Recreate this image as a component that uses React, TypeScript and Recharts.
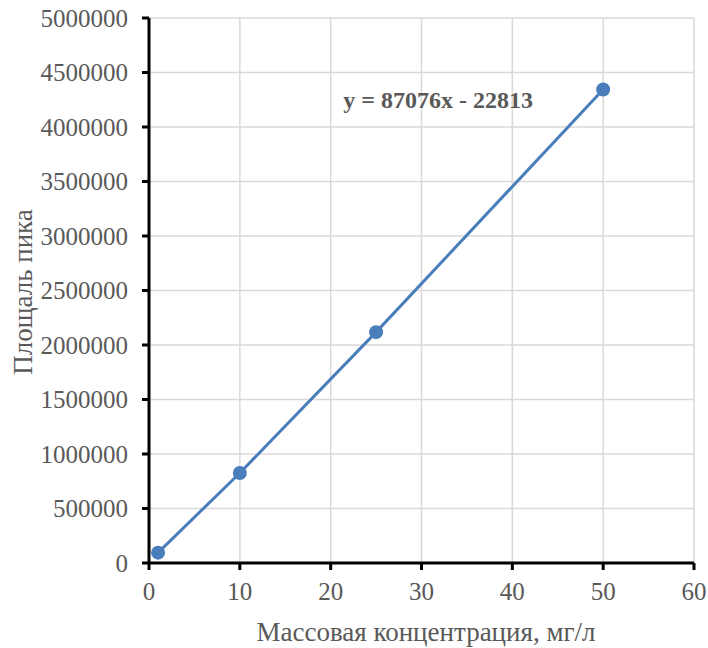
import { LineChart, Line, XAxis, YAxis, CartesianGrid, ReferenceDot } from "recharts"

const concentrations = [1, 10, 25, 50]
const peakAreas = [95000, 826000, 2118000, 4344000]
const xTicks = [0, 10, 20, 30, 40, 50, 60]
const yTicks = [0, 500000, 1000000, 1500000, 2000000, 2500000, 3000000, 3500000, 4000000, 4500000, 5000000]
const equation = "y = 87076x - 22813"
const xTitle = "Массовая концентрация, мг/л"
const yTitle = "Площаль пика"

const data = concentrations.map((x, i) => ({ x, area: peakAreas[i] }))

const font = "Liberation Serif"
const gray = "#595959"
const blue = "#4A7EBB"

function XTick({ x, y, payload }: any) {
  return (
    <text x={x} y={y + 26} textAnchor="middle" fontFamily={font} fontSize={25} fill={gray}>
      {payload.value}
    </text>
  )
}

function YTick({ x, y, payload }: any) {
  return (
    <text x={x} y={y + 8.5} textAnchor="end" fontFamily={font} fontSize={25} fill={gray}>
      {payload.value}
    </text>
  )
}

export default function App() {
  return (
    <div style={{ position: "absolute", left: 0, top: 0, width: 708, height: 648, background: "#fff" }}>
      <LineChart width={708} height={648} data={data} margin={{ top: 18, right: 14, left: 0, bottom: 0 }}>
        <CartesianGrid stroke="#d9d9d9" strokeWidth={1.5} />
        <XAxis
          type="number"
          dataKey="x"
          domain={[0, 60]}
          ticks={xTicks}
          height={85}
          tick={<XTick />}
          tickSize={7}
          tickMargin={4}
          stroke="#000"
          strokeWidth={3}
          tickLine={{ stroke: "#000", strokeWidth: 3 }}
        />
        <XAxis xAxisId="top" orientation="top" type="number" domain={[0, 60]} tick={false} tickLine={false} height={0} stroke="#000" strokeWidth={3} />
        <YAxis
          type="number"
          domain={[0, 5000000]}
          ticks={yTicks}
          width={149}
          tick={<YTick />}
          tickSize={7}
          tickMargin={14}
          stroke="#000"
          strokeWidth={3}
          tickLine={{ stroke: "#000", strokeWidth: 3 }}
        />
        <YAxis yAxisId="right" orientation="right" domain={[0, 5000000]} tick={false} tickLine={false} width={0} stroke="#000" strokeWidth={3} />
        <Line
          dataKey="area"
          type="linear"
          stroke={blue}
          strokeWidth={3}
          dot={{ r: 7, fill: blue, stroke: blue, strokeWidth: 0 }}
          isAnimationActive={false}
        />
        <ReferenceDot
          x={21.5}
          y={4250000}
          r={0}
          label={(p: any) => (
            <text x={p.viewBox.x - 1} y={p.viewBox.y + 8} fontFamily={font} fontSize={24} fontWeight="bold" fill={gray}>
              {equation}
            </text>
          )}
        />
        <text x={426} y={641} textAnchor="middle" fontFamily={font} fontSize={27} fill={gray}>
          {xTitle}
        </text>
        <text x={32} y={292} transform="rotate(-90 32 292)" textAnchor="middle" fontFamily={font} fontSize={27} fill={gray}>
          {yTitle}
        </text>
      </LineChart>
    </div>
  )
}
